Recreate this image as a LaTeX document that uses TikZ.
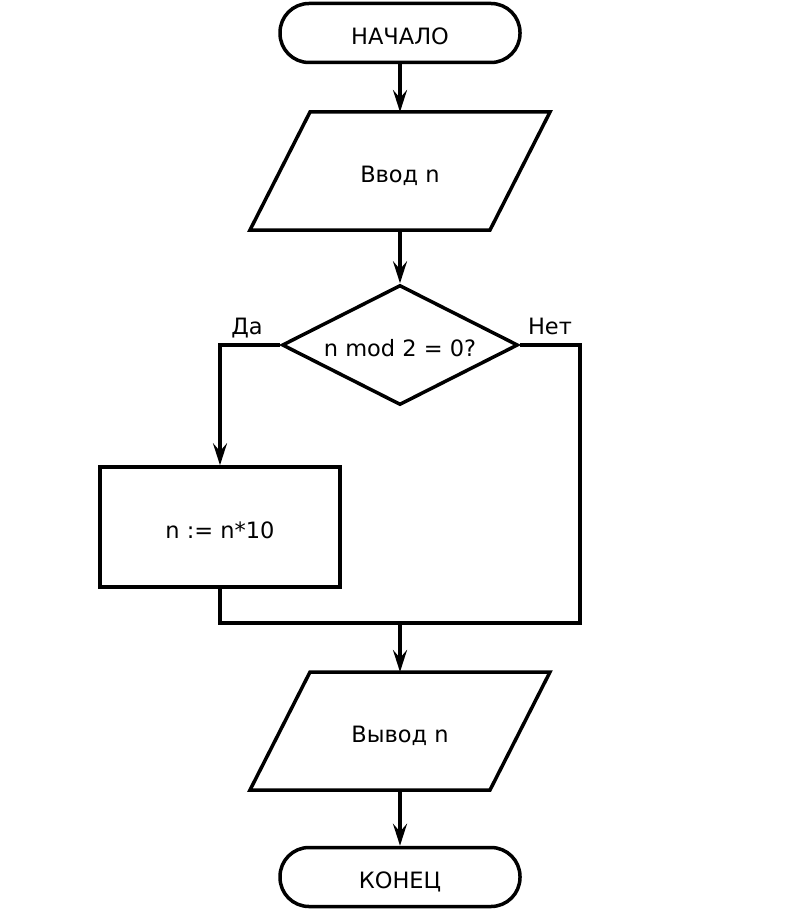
\documentclass[tikz,border=0pt]{standalone}
\usepackage{fontspec}
\setmainfont{DejaVu Sans}
\usetikzlibrary{shapes.geometric,arrows.meta}
\begin{document}
\begin{tikzpicture}[x=1pt,y=-1pt,
  line width=3.5pt,
  every node/.style={font=\fontsize{22.5}{26}\selectfont,text height=23pt,text depth=0pt},
  term/.style={draw,rectangle,rounded corners=29pt,minimum width=240pt,minimum height=59pt,inner sep=0pt},
  io/.style={rectangle,minimum width=240pt,minimum height=118pt,inner sep=0pt,outer sep=0pt},
  dec/.style={draw,diamond,aspect=2,minimum width=236pt,minimum height=120pt,inner sep=0pt},
  proc/.style={draw,rectangle,minimum width=240pt,minimum height=120pt,inner sep=0pt},
  lbl/.style={inner sep=0pt},
  arr/.style={-{Stealth[length=22pt,width=14pt,inset=8pt]}}]
\useasboundingbox[fill=white] (0,0) rectangle (800,912);
\node[term] (start) at (400,33) {НАЧАЛО};
\node[io] (in) at (400,171) {Ввод n};
\draw ([xshift=30pt]in.north west) -- ([xshift=30pt]in.north east) -- ([xshift=-30pt]in.south east) -- ([xshift=-30pt]in.south west) -- cycle;
\node[dec] (d) at (400,345) {n mod 2 = 0?};
\node[proc] (p) at (220,527) {n := n*10};
\node[io] (out) at (400,731) {Вывод n};
\draw ([xshift=30pt]out.north west) -- ([xshift=30pt]out.north east) -- ([xshift=-30pt]out.south east) -- ([xshift=-30pt]out.south west) -- cycle;
\node[term] (end) at (400,877) {КОНЕЦ};
\node[lbl] (yes) at (247,323) {Да};
\node[lbl] (no) at (550,323) {Нет};
\coordinate (join) at (400,623);
\coordinate (lc) at (220,345);
\coordinate (rc) at (580,623);
\draw[arr] (start.south) -- (in.north);
\draw[arr] (in.south) -- (d.north);
\draw[arr] (d.west) -- (lc) -- (p.north);
\draw (d.east) -| (rc) -- (join);
\draw (p.south) |- (join);
\draw[arr] (join) -- (out.north);
\draw[arr] (out.south) -- (end.north);
\end{tikzpicture}
\end{document}
